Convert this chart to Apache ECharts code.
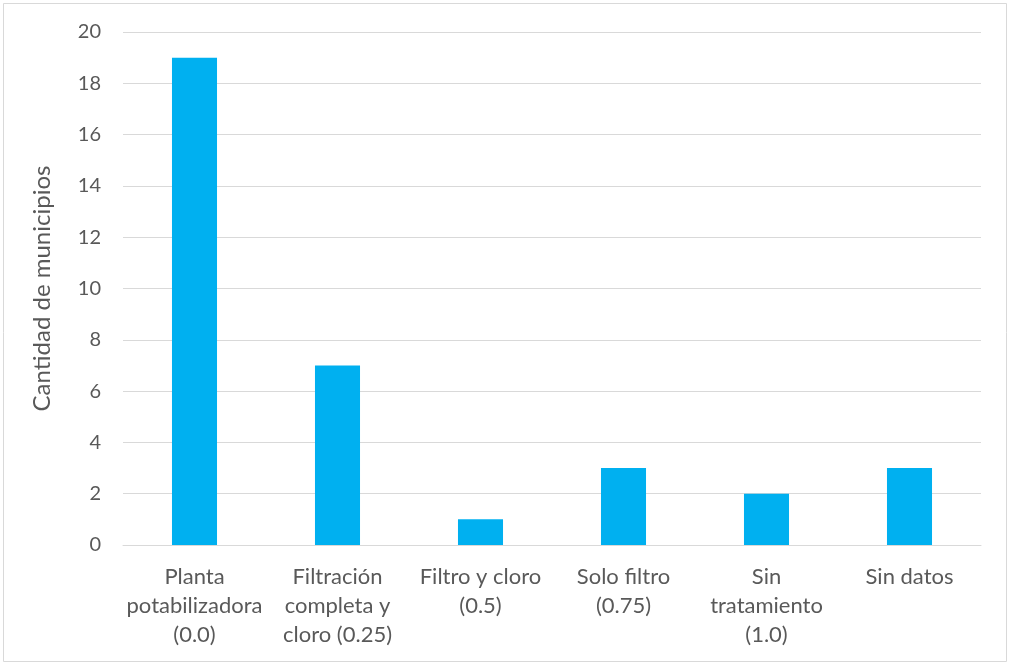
<!DOCTYPE html>
<html>
<head>
<meta charset="utf-8">
<script src="https://cdn.jsdelivr.net/npm/echarts@6/dist/echarts.min.js"></script>
<style>
  html, body { margin: 0; padding: 0; background: #fff; }
  #chart { width: 1011px; height: 665px; }
</style>
</head>
<body>
<div id="chart"></div>
<script>
// Water treatment categories and municipality counts
const categories = [
  'Planta\npotabilizadora\n(0.0)',
  'Filtración\ncompleta y\ncloro (0.25)',
  'Filtro y cloro\n(0.5)',
  'Solo filtro\n(0.75)',
  'Sin\ntratamiento\n(1.0)',
  'Sin datos'
];
const municipios = [19, 7, 1, 3, 2, 3];
const yAxisTitle = 'Cantidad de municipios';

const FONT = 'Lato, "Open Sans", sans-serif';

const chart = echarts.init(document.getElementById('chart'), null, { renderer: 'canvas' });
chart.setOption({
  animation: false,
  backgroundColor: '#ffffff',
  textStyle: { fontFamily: FONT },
  graphic: [{
    type: 'rect',
    shape: { x: 3.5, y: 3.5, width: 1003, height: 658 },
    style: { fill: 'none', stroke: '#d9d9d9', lineWidth: 1 },
    silent: true
  }],
  grid: { left: 123, right: 30, top: 32, bottom: 120, containLabel: false },
  xAxis: {
    type: 'category',
    data: categories,
    axisLine: { show: true, lineStyle: { color: '#d9d9d9', width: 1 } },
    axisTick: { show: false },
    axisLabel: {
      interval: 0,
      color: '#595959',
      fontSize: 22,
      lineHeight: 29,
      margin: 17,
      fontFamily: FONT
    }
  },
  yAxis: {
    type: 'value',
    min: 0,
    max: 20,
    interval: 2,
    name: yAxisTitle,
    nameLocation: 'middle',
    nameGap: 69,
    nameTextStyle: { color: '#595959', fontSize: 24, fontFamily: FONT },
    axisLine: { show: false },
    axisTick: { show: false },
    axisLabel: { color: '#595959', fontSize: 20, margin: 22, fontFamily: FONT },
    splitLine: { lineStyle: { color: '#d9d9d9', width: 1 } }
  },
  series: [{
    type: 'bar',
    data: municipios,
    barWidth: '31.5%',
    itemStyle: { color: '#00b0f0' }
  }]
});
</script>
</body>
</html>
